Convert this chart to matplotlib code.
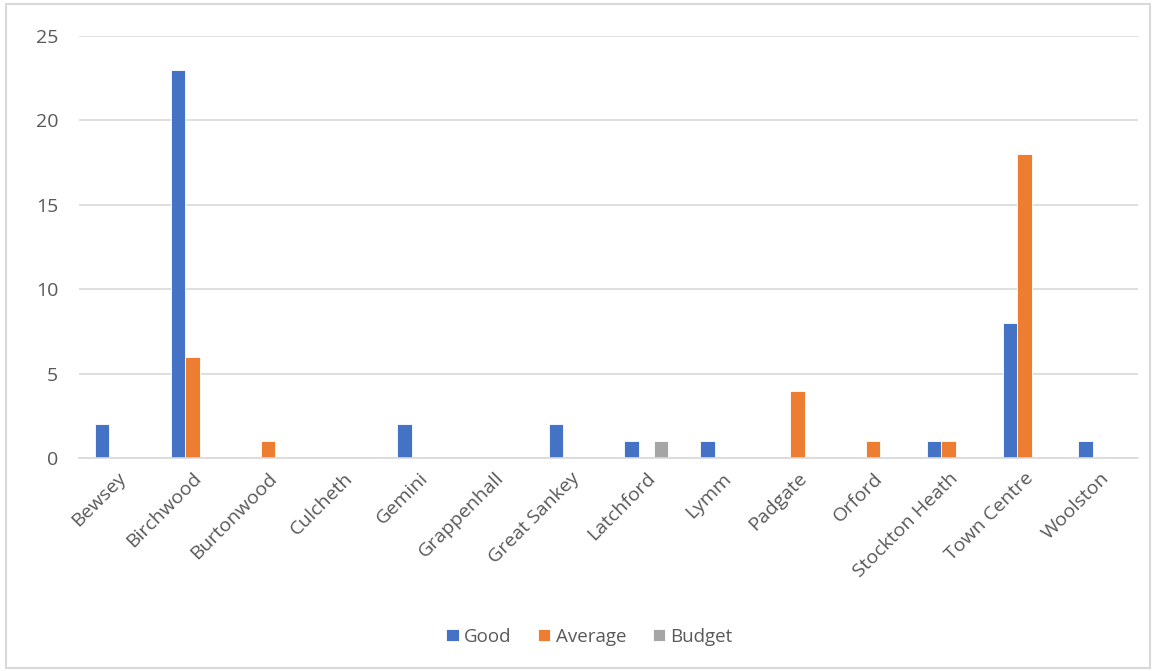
import numpy as np
import matplotlib.pyplot as plt
from matplotlib.patches import Rectangle

# ----------------------------------------------------------------------------
# DATA
# ----------------------------------------------------------------------------
areas = ["Bewsey", "Birchwood", "Burtonwood", "Culcheth", "Gemini",
         "Grappenhall", "Great Sankey", "Latchford", "Lymm", "Padgate",
         "Orford", "Stockton Heath", "Town Centre", "Woolston"]
good = [2, 23, 0, 0, 2, 0, 2, 1, 1, 0, 0, 1, 8, 1]
average = [0, 6, 1, 0, 0, 0, 0, 0, 0, 4, 1, 1, 18, 0]
budget = [0, 0, 0, 0, 0, 0, 0, 1, 0, 0, 0, 0, 0, 0]

series = [("Good", good, "#4472C4"),
          ("Average", average, "#ED7D31"),
          ("Budget", budget, "#A5A5A5")]

plt.rcParams["font.family"] = ["Open Sans", "DejaVu Sans"]

fig = plt.figure(figsize=(11.56, 6.71), dpi=100)
ax = fig.add_axes([0.0683, 0.3174, 0.916, 0.6289])

# chart border
fig.patches.append(Rectangle((0.005, 0.005), 0.99, 0.989, transform=fig.transFigure,
                             fill=False, edgecolor="#D9D9D9", lw=1.5))

x = np.arange(len(areas))
w = 0.193
for i, (name, vals, col) in enumerate(series):
    ax.bar(x + (i - 1) * w, vals, width=w, color=col, edgecolor="white",
           linewidth=0.6, label=name, zorder=3)

ax.set_xlim(-0.5, len(areas) - 0.5)
ax.set_ylim(0, 25)
ax.set_yticks([0, 5, 10, 15, 20, 25])
ax.yaxis.grid(True, color="#D9D9D9", lw=1.2, zorder=0)
for s in ["top", "right", "left"]:
    ax.spines[s].set_visible(False)
ax.spines["bottom"].set_color("#D9D9D9")
ax.spines["bottom"].set_linewidth(1.2)
ax.spines["bottom"].set_zorder(4)
ax.tick_params(length=0, colors="#595959", labelsize=14)
ax.tick_params(axis="y", pad=15)
ax.tick_params(axis="x", pad=8)
ax.set_xticks(x)
ax.set_xticklabels(areas, rotation=45, ha="right", rotation_mode="anchor")

ax.legend(loc="center", bbox_to_anchor=(0.51, 0.051), bbox_transform=fig.transFigure,
          ncol=3, frameon=False, fontsize=13.5, labelcolor="#595959",
          handlelength=0.65, handleheight=0.65, handletextpad=0.3, columnspacing=1.4)

fig.savefig("out.png", dpi=100)
